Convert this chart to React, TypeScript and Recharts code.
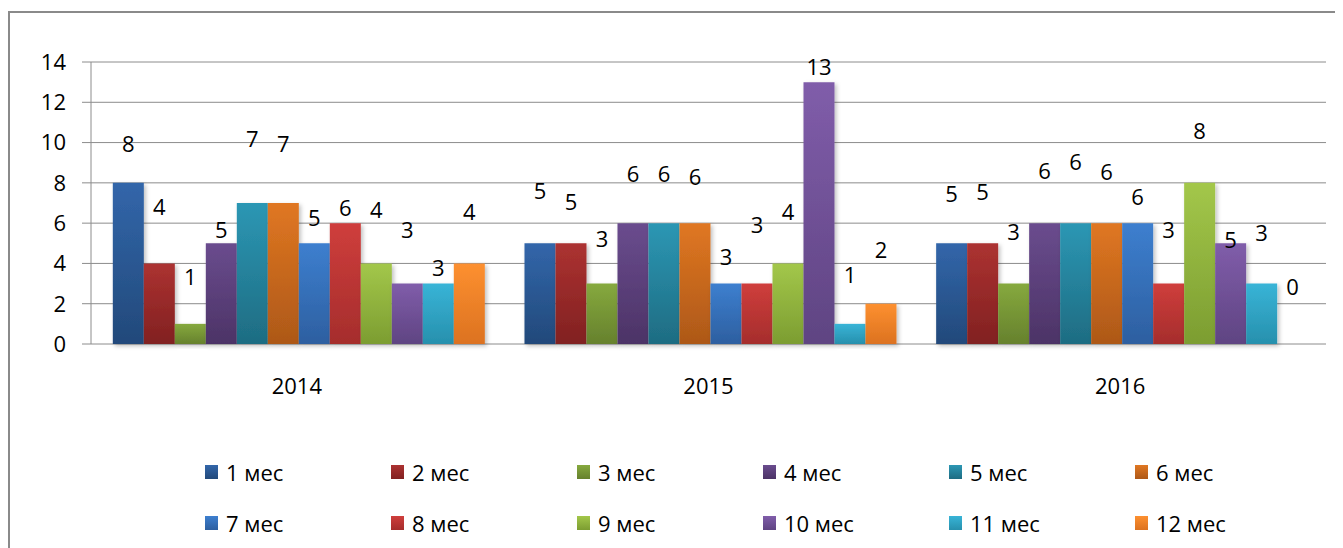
import React from "react";
import { BarChart, Bar, XAxis, YAxis, CartesianGrid, LabelList } from "recharts";

const years = ["2014", "2015", "2016"];
const seriesNames = ["1 мес", "2 мес", "3 мес", "4 мес", "5 мес", "6 мес", "7 мес", "8 мес", "9 мес", "10 мес", "11 мес", "12 мес"];

const values2014 = [8, 4, 1, 5, 7, 7, 5, 6, 4, 3, 3, 4];
const values2015 = [5, 5, 3, 6, 6, 6, 3, 3, 4, 13, 1, 2];
const values2016 = [5, 5, 3, 6, 6, 6, 6, 3, 8, 5, 3, 0];

// heights (in data units) at which Excel's moved data labels sit
const labelAt2014 = [10.0, 6.85, 3.4, 5.7, 10.25, 10.0, 6.3, 6.8, 6.7, 5.7, 3.8, 6.6];
const labelAt2015 = [7.67, 7.1, 5.25, 8.5, 8.5, 8.33, 4.37, 5.94, 6.6, 13.78, 3.47, 4.7];
const labelAt2016 = [7.5, 7.6, 5.6, 8.65, 9.1, 8.6, 7.35, 5.7, 10.6, 5.2, 5.55, 2.9];

const yTicks = [0, 2, 4, 6, 8, 10, 12, 14];
const boundaryTicks = [0, 1, 2, 3];

const colorsTop = ["#3266AA", "#AC3231", "#86A93E", "#6A4C8E", "#2C97B4", "#E07722", "#3D7FCF", "#CF3E3C", "#A3C74A", "#805DAA", "#38B4D7", "#FD9030"];
const colorsBottom = ["#22497A", "#812121", "#66812D", "#4C3366", "#1E6C82", "#AD5818", "#2D5FA0", "#A52D2C", "#7C9D31", "#5F4482", "#2790AD", "#DC7220"];

const allValues = [values2014, values2015, values2016];
const allLabels = [labelAt2014, labelAt2015, labelAt2016];

const data = years.map((y, i) => {
  const row: any = { year: y };
  seriesNames.forEach((_, s) => {
    row["m" + s] = allValues[i][s];
  });
  return row;
});

const FONT = "'Open Sans', sans-serif";
const FS = 22;
const W = 1333;
const H = 535;
const MT = 49;
const PLOT_BOTTOM = 331;
const Y_MAX = 14;
const PPU = (PLOT_BOTTOM - MT) / Y_MAX;

// renders the data labels of every series of one category, from the first bar's geometry
const groupLabels = (props: any) => {
  const { x, width, index } = props;
  return (
    <g>
      {seriesNames.map((_, s) => {
        const cx = x + width * s + width / 2;
        const cy = PLOT_BOTTOM - allLabels[index][s] * PPU;
        return (
          <text
            key={s}
            x={cx}
            y={cy}
            textAnchor="middle"
            dominantBaseline="central"
            fontFamily={FONT}
            fontSize={FS}
            fill="#000"
          >
            {allValues[index][s]}
          </text>
        );
      })}
    </g>
  );
};

export default function App() {
  return (
    <div
      style={{
        position: "relative",
        marginTop: 3,
        width: 1335,
        height: 537,
        boxSizing: "border-box",
        borderLeft: "2px solid #8a8a8a",
        borderTop: "2px solid #8a8a8a",
        background: "#fff",
        overflow: "hidden",
      }}
    >
      <BarChart
        width={W}
        height={H}
        data={data}
        margin={{ top: MT, right: 17, left: 0, bottom: 144 }}
        barCategoryGap="5.3%"
        barGap={0}
      >
        <defs>
          {seriesNames.map((_, s) => (
            <linearGradient key={s} id={"g" + s} x1="0" y1="0" x2="0" y2="1">
              <stop offset="0%" stopColor={colorsTop[s]} />
              <stop offset="100%" stopColor={colorsBottom[s]} />
            </linearGradient>
          ))}
          <filter id="shadow" x="-10%" y="-10%" width="130%" height="130%">
            <feDropShadow dx="2" dy="2" stdDeviation="2" floodColor="#000" floodOpacity="0.25" />
          </filter>
        </defs>
        <CartesianGrid vertical={false} stroke="#8c8c8c" strokeWidth={1} xAxisId="cat" />
        <XAxis
          xAxisId="b"
          type="number"
          domain={[0, 3]}
          ticks={boundaryTicks}
          orientation="bottom"
          height={0}
          tickSize={9}
          stroke="#8c8c8c"
          axisLine={{ stroke: "#8c8c8c" }}
          tickLine={{ stroke: "#8c8c8c" }}
          tick={() => <g />}
          allowDataOverflow
        />
        <XAxis
          xAxisId="cat"
          dataKey="year"
          height={60}
          axisLine={false}
          tickLine={false}
          tickSize={0}
          tickMargin={34}
          tick={{ fontFamily: FONT, fontSize: FS, fill: "#000" }}
        />
        <YAxis
          domain={[0, 14]}
          ticks={yTicks}
          width={81}
          tickSize={9}
          tickMargin={16}
          stroke="#8c8c8c"
          axisLine={{ stroke: "#8c8c8c" }}
          tickLine={{ stroke: "#8c8c8c" }}
          tick={{ fontFamily: FONT, fontSize: FS, fill: "#000" }}
        />
        {seriesNames.map((name, s) => (
          <Bar
            key={s}
            xAxisId="cat"
            dataKey={"m" + s}
            name={name}
            fill={`url(#g${s})`}
            isAnimationActive={false}
            style={{ filter: "url(#shadow)" }}
          >
            {s === 0 ? <LabelList dataKey={"m" + s} content={groupLabels} /> : null}
          </Bar>
        ))}
      </BarChart>
      <div
        style={{
          position: "absolute",
          left: 0,
          top: 0,
          width: "100%",
          height: "100%",
          pointerEvents: "none",
        }}
      >
        {seriesNames.map((name, s) => {
          const col = s % 6;
          const row = Math.floor(s / 6);
          const left = 195 + col * 186;
          const top = 459 + row * 51 - 13;
          return (
            <div
              key={s}
              style={{
                position: "absolute",
                left,
                top,
                display: "flex",
                alignItems: "center",
                height: 26,
                fontFamily: FONT,
                fontSize: FS,
                color: "#000",
                whiteSpace: "nowrap",
              }}
            >
              <span
                style={{
                  display: "inline-block",
                  width: 13,
                  height: 14,
                  marginRight: 8,
                  background: `linear-gradient(${colorsTop[s]}, ${colorsBottom[s]})`,
                }}
              />
              {name}
            </div>
          );
        })}
      </div>
    </div>
  );
}
